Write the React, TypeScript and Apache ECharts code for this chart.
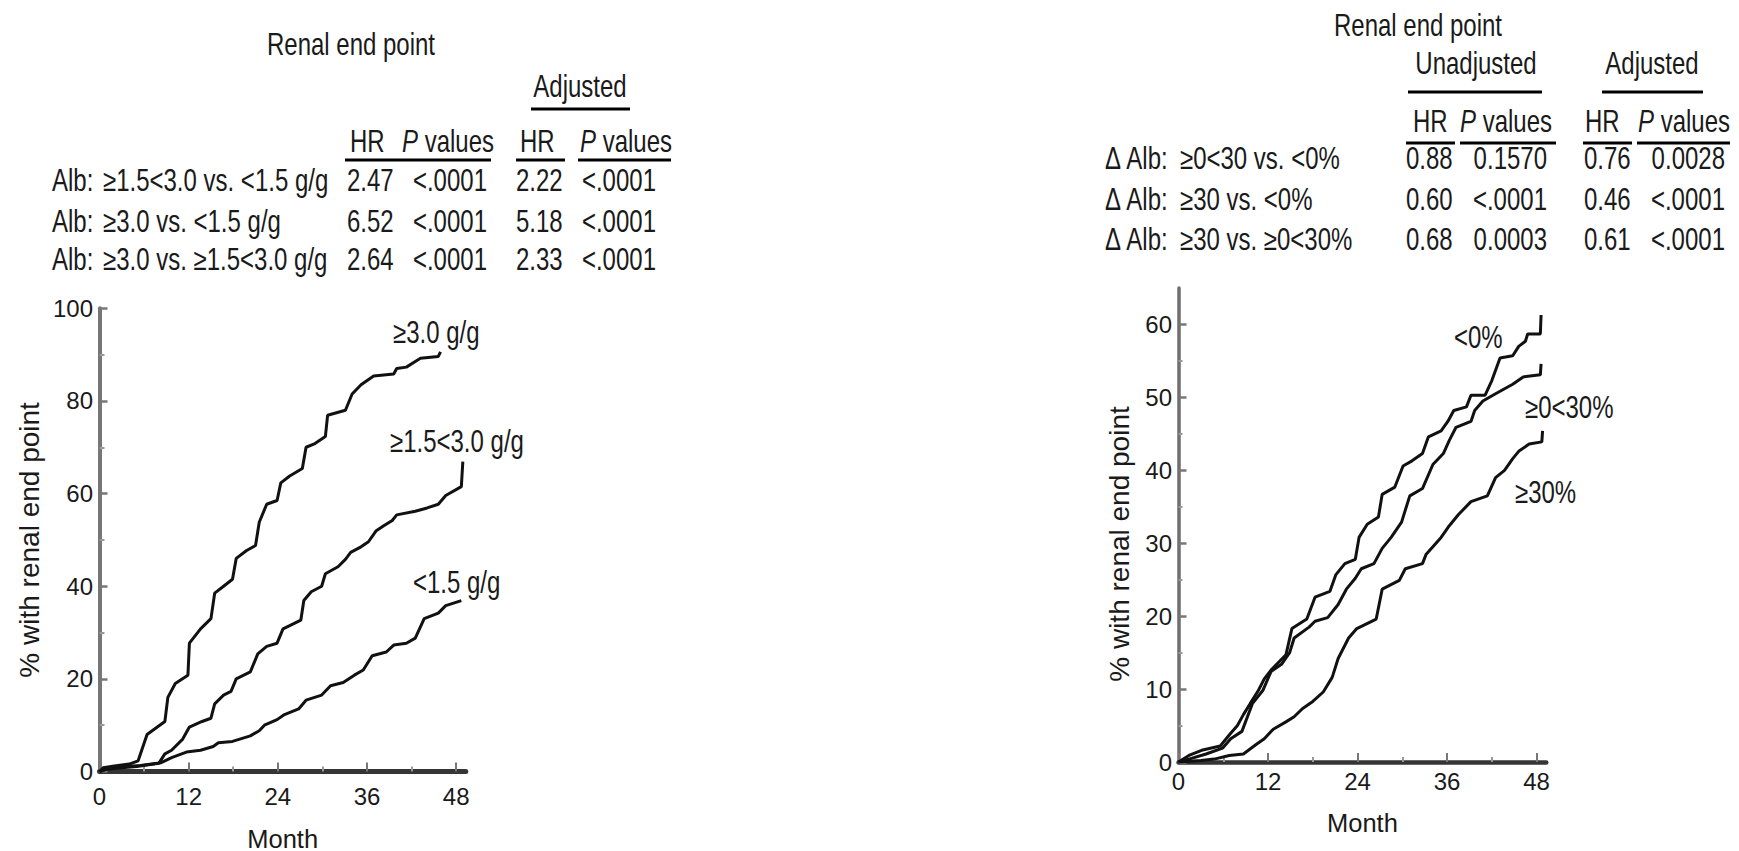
import React, { useEffect, useRef } from "react";
import * as echarts from "echarts";

// ---------- data ----------
const MONTH_TICKS = [0, 12, 24, 36, 48];
const MONTH_MINOR = [6, 18, 30, 42];
const RIGHT_Y_TICKS = [0, 10, 20, 30, 40, 50, 60];
const RIGHT_Y_MINOR = [5, 15, 25, 35, 45, 55];

// Left panel: baseline albuminuria groups
const leftHigh: number[][] = [
  [0, 0], [0.5, 0.8], [2, 1.2], [4, 1.6], [5.2, 2.3], [6.4, 8], [8.8, 10.8], [9.2, 16], [10.2, 19], [11.9, 20.8],
  [12.1, 27.7], [13.6, 30.8], [15, 33], [15.5, 38.5], [16.7, 40], [17.9, 41.5], [18.4, 46], [19.8, 47.7], [21, 48.8],
  [21.5, 53.8], [22.5, 57.7], [23.9, 58.5], [24.4, 62.3], [25.6, 63.8], [27.3, 65.4], [27.8, 70], [29, 70.8],
  [30.4, 72.3], [30.7, 76.9], [33.1, 78], [34, 81.5], [35.2, 83.5], [36.9, 85.4], [39.6, 85.8], [40, 87],
  [41.3, 87.3], [42.5, 88.5], [43.2, 89.2], [45.6, 89.6], [45.9, 90.6],
];
const leftMid: number[][] = [
  [0, 0], [1, 0.5], [3, 0.8], [5, 1.1], [8, 1.8], [8.8, 3.8], [9.7, 4.6], [11.2, 7], [12.1, 9.6], [13.8, 10.8],
  [15, 11.5], [15.5, 14.6], [16.7, 16.5], [17.7, 17.3], [18.4, 20], [20.3, 21.5], [21.3, 25.4], [22.5, 27],
  [23.9, 27.7], [24.7, 30.8], [25.6, 31.5], [27.1, 32.7], [27.5, 36.9], [28.5, 38.8], [29.9, 40], [30.4, 42.7],
  [32.1, 44.2], [33.1, 45.8], [33.8, 47.3], [35.2, 48.5], [36.2, 49.6], [37.2, 51.9], [38.2, 53], [39.4, 54.2],
  [40, 55.4], [42.5, 56.2], [44.1, 56.9], [45.6, 57.7], [46.6, 59.6], [48.7, 61.5], [48.9, 66.9],
];
const leftLow: number[][] = [
  [0, 0], [1, 0.6], [3, 1], [5.5, 1.3], [8.3, 1.9], [9.7, 3], [11.7, 4.2], [13.6, 4.6], [15.3, 5.4], [16, 6.2],
  [17.9, 6.5], [20.3, 7.7], [21.5, 8.8], [22.2, 10], [23.9, 11.2], [24.9, 12.3], [26.8, 13.5], [27.8, 15.4],
  [29.9, 16.5], [31.1, 18.5], [32.8, 19.2], [34.3, 20.8], [35.5, 21.9], [36.7, 25], [38.6, 25.8], [39.6, 27.3],
  [41.3, 27.7], [42.5, 28.8], [43.7, 33], [45.6, 34.2], [46.6, 35.8], [48.7, 36.9],
];

// Right panel: change in albuminuria groups
const rightNeg: number[][] = [
  [0, 0], [1.4, 0.9], [3.1, 1.6], [5.6, 2.2], [6.8, 3.7], [7.9, 5], [8.7, 6.5], [9.6, 8], [10.7, 9.8], [11.5, 11.4],
  [12.4, 12.6], [14.4, 14.7], [15.2, 18.3], [17.2, 19.6], [18.3, 22.6], [20.3, 23.4], [21.1, 25.7], [22.3, 27.2],
  [23.7, 27.8], [24.2, 30.8], [25.3, 32.6], [26.8, 33.6], [27.3, 36.7], [29, 37.7], [30.1, 40.6], [31.3, 41.3],
  [32.7, 42.3], [33.5, 44.6], [35.2, 45.4], [36.1, 46.7], [36.9, 48.2], [38.6, 48.7], [39.2, 50.3], [41.1, 50.3],
  [42, 52.3], [43.1, 55.4], [44.8, 55.7], [45.6, 57], [46.5, 57.7], [46.8, 58.7], [48.5, 58.7], [48.6, 61.3],
];
const rightMid: number[][] = [
  [0, 0], [1.4, 0.4], [3.7, 1.1], [5.9, 1.9], [7, 3.2], [8.5, 4.2], [9.9, 8], [11.3, 9.8], [12.4, 12.4], [13.8, 13.4],
  [14.9, 15], [15.5, 17], [17.5, 18.5], [18.3, 19.3], [20, 19.8], [21.4, 21.6], [22.5, 23.7], [23.7, 25.2],
  [24.5, 26.5], [26.2, 27.2], [27.3, 29.3], [28.5, 30.8], [29.9, 32.9], [31, 36.5], [32.7, 37.5], [34.1, 40.8],
  [35.5, 42.3], [36.3, 44.1], [37.2, 45.9], [39.2, 46.7], [39.7, 48.2], [40.8, 49.5], [42.5, 50.5], [44.8, 51.8],
  [46.2, 52.8], [48.5, 53.1], [48.6, 54.6],
];
const rightHigh: number[][] = [
  [0, 0], [3, 0.2], [4.8, 0.4], [6.8, 0.9], [8.7, 1.1], [10.4, 2.4], [11.5, 3.2], [12.7, 4.5], [14.4, 5.5],
  [15.5, 6.2], [16.6, 7.3], [18, 8.3], [19.4, 9.6], [20.6, 11.6], [21.4, 14.2], [22.8, 17], [23.9, 18.3],
  [26.5, 19.6], [27.3, 23.7], [29.6, 24.9], [30.4, 26.5], [32.7, 27.2], [33.2, 28.5], [35.2, 30.8], [36.3, 32.4],
  [37.5, 33.9], [39.2, 35.7], [41.4, 36.5], [42.5, 39], [43.7, 40], [44.8, 41.6], [45.6, 42.6], [47, 43.6],
  [48.7, 43.9], [48.8, 45.4],
];

// Tables
const leftRowLabels = ["≥1.5<3.0 vs. <1.5 g/g", "≥3.0 vs. <1.5 g/g", "≥3.0 vs. ≥1.5<3.0 g/g"];
const leftHR = ["2.47", "6.52", "2.64"];
const leftP = ["<.0001", "<.0001", "<.0001"];
const leftAdjHR = ["2.22", "5.18", "2.33"];
const leftAdjP = ["<.0001", "<.0001", "<.0001"];

const rightRowLabels = ["≥0<30 vs. <0%", "≥30 vs. <0%", "≥30 vs. ≥0<30%"];
const rightHR = ["0.88", "0.60", "0.68"];
const rightP = ["0.1570", "<.0001", "0.0003"];
const rightAdjHR = ["0.76", "0.46", "0.61"];
const rightAdjP = ["0.0028", "<.0001", "<.0001"];

// ---------- styling ----------
const FONT = "'Liberation Sans', Arial, sans-serif";
const INK = "#1a1a1a";
const SY = 1.27;

function txt(text: string, x: number, y: number, align: string = "left", rich = false): any {
  const style: any = {
    text,
    fontSize: 24,
    fontFamily: FONT,
    fill: INK,
    align,
    verticalAlign: "middle",
    textAlign: align,
    textVerticalAlign: "middle",
  };
  if (rich) {
    style.rich = { i: { fontStyle: "italic", fontSize: 24, fontFamily: FONT, fill: INK } };
  }
  return { type: "text", x, y, scaleY: SY, style, silent: true };
}

function bar(x1: number, x2: number, y: number): any {
  return { type: "rect", shape: { x: x1, y: y - 1.5, width: x2 - x1, height: 3 }, style: { fill: "#000" }, silent: true };
}

function buildGraphics(): any[] {
  const g: any[] = [];
  // Left table
  g.push(txt("Renal end point", 351, 44, "center"));
  g.push(txt("Adjusted", 580, 86, "center"));
  g.push(bar(531, 630, 109));
  g.push(txt("HR", 350, 141));
  g.push(txt("{i|P} values", 402, 141, "left", true));
  g.push(txt("HR", 520, 141));
  g.push(txt("{i|P} values", 580, 141, "left", true));
  g.push(bar(345, 491, 160));
  g.push(bar(516, 565, 160));
  g.push(bar(578, 671, 160));
  const lRows = [180, 221, 259];
  lRows.forEach((y, i) => {
    g.push(txt("Alb:", 52, y));
    g.push(txt(leftRowLabels[i], 103, y));
    g.push(txt(leftHR[i], 347, y));
    g.push(txt(leftP[i], 487, y, "right"));
    g.push(txt(leftAdjHR[i], 516, y));
    g.push(txt(leftAdjP[i], 656, y, "right"));
  });
  // Right table
  g.push(txt("Renal end point", 1418, 25, "center"));
  g.push(txt("Unadjusted", 1476, 63, "center"));
  g.push(txt("Adjusted", 1652, 63, "center"));
  g.push(bar(1408, 1542, 92));
  g.push(bar(1602, 1703, 92));
  g.push(txt("HR", 1413, 121));
  g.push(txt("{i|P} values", 1460, 121, "left", true));
  g.push(txt("HR", 1585, 121));
  g.push(txt("{i|P} values", 1638, 121, "left", true));
  g.push(bar(1406, 1455, 143));
  g.push(bar(1460, 1556, 143));
  g.push(bar(1583, 1632, 143));
  g.push(bar(1637, 1730, 143));
  const rRows = [158, 199, 239];
  rRows.forEach((y, i) => {
    g.push(txt("Δ Alb:", 1105, y));
    g.push(txt(rightRowLabels[i], 1180, y));
    g.push(txt(rightHR[i], 1406, y));
    g.push(txt(rightP[i], 1547, y, "right"));
    g.push(txt(rightAdjHR[i], 1584, y));
    g.push(txt(rightAdjP[i], 1725, y, "right"));
  });
  // Curve labels
  g.push(txt("≥3.0 g/g", 393, 332));
  g.push(txt("≥1.5<3.0 g/g", 390, 441));
  g.push(txt("<1.5 g/g", 413, 582));
  g.push(txt("<0%", 1454, 337));
  g.push(txt("≥0<30%", 1525, 407));
  g.push(txt("≥30%", 1515, 492));
  return g;
}

const tickLabelStyle = { fontFamily: FONT, fontSize: 24, color: INK };

function mainX(gridIndex: number, max: number, lineW: number, labelMargin: number, nameGap: number): any {
  return {
    gridIndex,
    type: "value",
    position: "bottom",
    min: 0,
    max,
    axisLine: { show: true, onZero: false, lineStyle: { color: "#353535", width: lineW } },
    axisTick: { show: true, inside: true, length: 9, customValues: MONTH_TICKS, lineStyle: { color: "#777", width: 2 } },
    axisLabel: { show: true, customValues: MONTH_TICKS, margin: labelMargin, ...tickLabelStyle },
    splitLine: { show: false },
    name: "Month",
    nameLocation: "middle",
    nameGap,
    nameTextStyle: { fontFamily: FONT, fontSize: 25.5, color: INK },
  };
}

function minorX(gridIndex: number, max: number): any {
  return {
    gridIndex,
    type: "value",
    position: "bottom",
    min: 0,
    max,
    axisLine: { show: false, onZero: false },
    axisTick: { show: true, inside: true, length: 5, customValues: MONTH_MINOR, lineStyle: { color: "#999", width: 2 } },
    axisLabel: { show: false },
    splitLine: { show: false },
  };
}

function curve(data: number[][], xAxisIndex: number, yAxisIndex: number): any {
  return {
    type: "line",
    xAxisIndex,
    yAxisIndex,
    data,
    showSymbol: false,
    symbol: "none",
    silent: true,
    lineStyle: { color: "#111", width: 3 },
    z: 3,
  };
}

export default function App() {
  const ref = useRef<HTMLDivElement>(null);
  useEffect(() => {
    if (!ref.current) return;
    const chart = echarts.init(ref.current, undefined, { renderer: "svg" });
    const option: any = {
      animation: false,
      backgroundColor: "#ffffff",
      grid: [
        { left: 99.5, top: 308.3, width: 366.3, height: 463.2, containLabel: false, outerBoundsMode: "none" },
        { left: 1178.5, top: 288, width: 367.8, height: 474, containLabel: false, outerBoundsMode: "none" },
      ],
      xAxis: [
        mainX(0, 49.3, 5, 12.5, 54),
        minorX(0, 49.3),
        mainX(1, 49.3, 4.5, 7, 48),
        minorX(1, 49.3),
      ],
      yAxis: [
        {
          gridIndex: 0,
          type: "value",
          position: "left",
          min: 0,
          max: 100,
          interval: 20,
          axisLine: { show: true, onZero: false, lineStyle: { color: "#777", width: 4 } },
          axisTick: { show: true, inside: true, length: 8, lineStyle: { color: "#777", width: 2.5 } },
          minorTick: { show: true, splitNumber: 2, length: 5, lineStyle: { color: "#999", width: 2 } },
          axisLabel: { margin: 6.5, ...tickLabelStyle },
          splitLine: { show: false },
          minorSplitLine: { show: false },
          name: "% with renal end point",
          nameLocation: "middle",
          nameGap: 56,
          nameTextStyle: { fontFamily: FONT, fontSize: 28, color: INK },
        },
        {
          gridIndex: 1,
          type: "value",
          position: "left",
          min: 0,
          max: 65,
          axisLine: { show: true, onZero: false, lineStyle: { color: "#6e6e6e", width: 3.5 } },
          axisTick: { show: true, inside: true, length: 8, customValues: RIGHT_Y_TICKS, lineStyle: { color: "#777", width: 2.5 } },
          axisLabel: { customValues: RIGHT_Y_TICKS, margin: 6.5, ...tickLabelStyle },
          splitLine: { show: false },
          name: "% with renal end point",
          nameLocation: "middle",
          nameGap: 45.5,
          nameTextStyle: { fontFamily: FONT, fontSize: 28, color: INK, padding: [0, 38, 0, 0] },
        },
        {
          gridIndex: 1,
          type: "value",
          position: "left",
          min: 0,
          max: 65,
          axisLine: { show: false, onZero: false },
          axisTick: { show: true, inside: true, length: 4, customValues: RIGHT_Y_MINOR, lineStyle: { color: "#999", width: 2 } },
          axisLabel: { show: false },
          splitLine: { show: false },
        },
      ],
      series: [
        curve(leftHigh, 0, 0),
        curve(leftMid, 0, 0),
        curve(leftLow, 0, 0),
        curve(rightNeg, 2, 1),
        curve(rightMid, 2, 1),
        curve(rightHigh, 2, 1),
      ],
      graphic: buildGraphics(),
    };
    chart.setOption(option);
    return () => chart.dispose();
  }, []);
  return (
    <div
      ref={ref}
      style={{ position: "fixed", left: 0, top: 0, width: 1739, height: 851, background: "#fff" }}
    />
  );
}
